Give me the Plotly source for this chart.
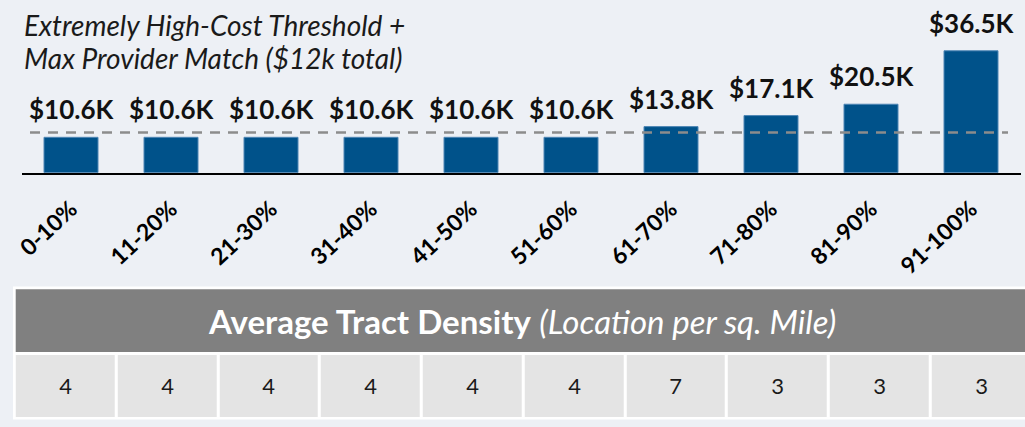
import plotly.graph_objects as go

# ---- data ----
categories = ["0-10%", "11-20%", "21-30%", "31-40%", "41-50%",
              "51-60%", "61-70%", "71-80%", "81-90%", "91-100%"]
cost_k = [10.6, 10.6, 10.6, 10.6, 10.6, 10.6, 13.8, 17.1, 20.5, 36.5]
bar_labels = ["$10.6K", "$10.6K", "$10.6K", "$10.6K", "$10.6K",
              "$10.6K", "$13.8K", "$17.1K", "$20.5K", "$36.5K"]
threshold_k = 12
density = [4, 4, 4, 4, 4, 4, 7, 3, 3, 3]
note_lines = ["Extremely High-Cost Threshold +", "Max Provider Match ($12k total)"]
table_title = "<b>Average Tract Density</b> <i>(Location per sq. Mile)</i>"

W, H = 1025, 427
BG = "#EDF0F5"
BAR = "#00528A"
FONT = "Lato, 'Open Sans', sans-serif"

def px_x(p):
    return p / W

def px_y(p):
    return (H - p) / H

fig = go.Figure()

fig.add_trace(go.Bar(
    x=categories, y=cost_k, width=0.54,
    marker=dict(color=BAR, line=dict(color="#4F86B5", width=1)),
    hoverinfo="skip", xaxis="x", yaxis="y",
))

# table value row as a heatmap on its own axes
fig.add_trace(go.Heatmap(
    x=categories, y=[0], z=[[1] * len(density)],
    text=[[str(d) for d in density]], texttemplate="%{text}",
    textfont=dict(family=FONT, size=22, color="#1a1a1a"),
    colorscale=[[0, "#E4E4E4"], [1, "#E4E4E4"]], showscale=False,
    xgap=3, hoverinfo="skip", xaxis="x2", yaxis="y2",
))

annotations = []
for c, v, t in zip(categories, cost_k, bar_labels):
    annotations.append(dict(
        x=c, y=v, xref="x", yref="y", text=t, showarrow=False,
        yanchor="middle", yshift=28,
        font=dict(family=FONT, size=26, color="#111111", weight="bold"),
    ))

for line, yc in zip(note_lines, [25, 58]):
    annotations.append(dict(
        x=px_x(22), y=px_y(yc), xref="paper", yref="paper", text=line,
        showarrow=False, xanchor="left", yanchor="middle", align="left",
        font=dict(family=FONT, size=28, color="#1a1a1a", style="italic"),
    ))

annotations.append(dict(
    x=px_x(522), y=px_y(321), xref="paper", yref="paper", text=table_title,
    showarrow=False, xanchor="center", yanchor="middle",
    font=dict(family=FONT, size=33, color="white"),
))

shapes = [
    # white table frame
    dict(type="rect", xref="paper", yref="paper", layer="below",
         x0=px_x(13), x1=1, y0=px_y(419.5), y1=px_y(286.5),
         fillcolor="white", line=dict(width=0)),
    # header
    dict(type="rect", xref="paper", yref="paper", layer="below",
         x0=px_x(15.7), x1=1, y0=px_y(352), y1=px_y(289.3),
         fillcolor="#808080", line=dict(width=0)),
    # threshold dashed line
    dict(type="line", xref="x", yref="y", layer="above",
         x0=-0.41, x1=9.37, y0=threshold_k, y1=threshold_k,
         line=dict(color="#8C8C8C", width=2.5, dash="10px,8px")),
]

fig.update_layout(
    width=W, height=H,
    margin=dict(l=0, r=0, t=0, b=0, autoexpand=False),
    paper_bgcolor=BG, plot_bgcolor="rgba(0,0,0,0)",
    showlegend=False,
    xaxis=dict(
        type="category", categoryorder="array", categoryarray=categories,
        range=[-0.49, 9.5], domain=[px_x(22), px_x(1021)], anchor="y",
        showline=True, linecolor="black", linewidth=2, ticks="",
        showgrid=False, zeroline=False, tickangle=-43, automargin=False,
        ticklabelstandoff=12,
        tickfont=dict(family=FONT, size=23, color="black", weight="bold"),
    ),
    yaxis=dict(
        range=[0, 172.7 / 3.34], domain=[px_y(172.7), 1], visible=False,
        showgrid=False, zeroline=False, automargin=False,
    ),
    xaxis2=dict(
        type="category", categoryorder="array", categoryarray=categories,
        range=[-0.5, -0.5 + (W - 14.75) / 101.75],
        domain=[px_x(14.75), 1], anchor="y2", visible=False, automargin=False,
    ),
    yaxis2=dict(
        range=[-0.5, 0.5], domain=[px_y(417), px_y(355)], anchor="x2",
        visible=False, automargin=False,
    ),
    annotations=annotations, shapes=shapes,
)

fig.write_html(
    "out.html",
    config={"displayModeBar": False},
    post_script="document.body.style.margin='0';document.body.style.overflow='hidden';",
)
